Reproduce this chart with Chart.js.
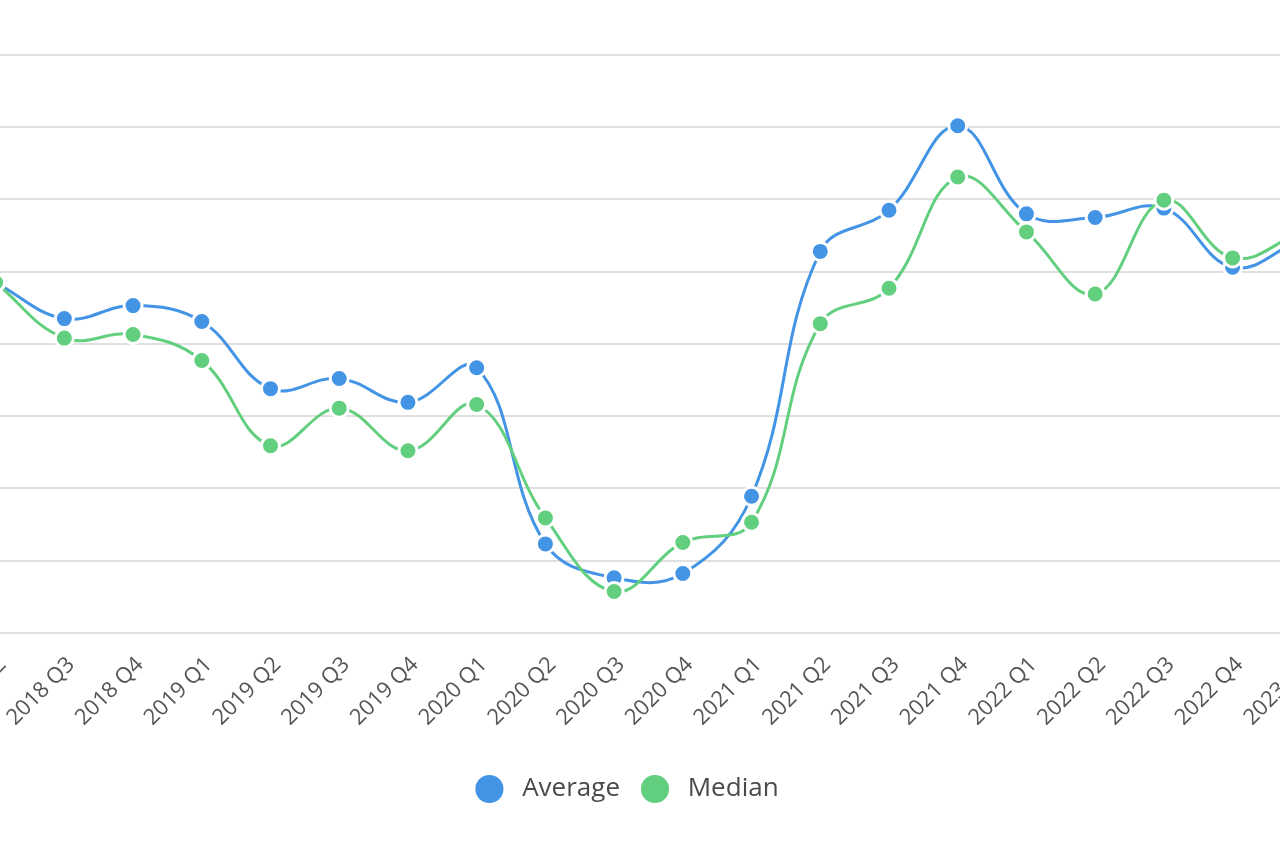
<!DOCTYPE html>
<html>
<head>
<meta charset="utf-8">
<script src="https://cdn.jsdelivr.net/npm/chart.js@4/dist/chart.umd.min.js"></script>
<style>
  html, body { margin: 0; padding: 0; background: #fff; overflow: hidden; }
  #frame { position: relative; width: 1280px; height: 852px; overflow: hidden; }
  #wrap { position: absolute; left: -84px; top: 0; width: 1423px; height: 832px; }
</style>
</head>
<body>
<div id="frame">
  <div id="wrap"><canvas id="trendChart"></canvas></div>
</div>
<script>
// quarters shown on the x axis
const quarters = [
  '2018 Q2', '2018 Q3', '2018 Q4',
  '2019 Q1', '2019 Q2', '2019 Q3', '2019 Q4',
  '2020 Q1', '2020 Q2', '2020 Q3', '2020 Q4',
  '2021 Q1', '2021 Q2', '2021 Q3', '2021 Q4',
  '2022 Q1', '2022 Q2', '2022 Q3', '2022 Q4',
  '2023 Q1'
];

// values (one grid step = 10)
const averageValues = [48.5, 43.5, 45.3, 43.1, 33.8, 35.2, 31.9, 36.7, 12.3, 7.6, 8.2, 18.9, 52.8, 58.5, 70.2, 58.0, 57.5, 58.8, 50.6, 54.5];
const medianValues  = [48.5, 40.8, 41.3, 37.7, 25.9, 31.1, 25.2, 31.6, 15.9, 5.7, 12.5, 15.3, 42.8, 47.7, 63.1, 55.5, 46.9, 59.9, 51.9, 55.5];

const yMin = 0;
const yMax = 80;
const yStep = 10;

const BLUE = '#4394e5';
const GREEN = '#62cf7e';

function lineSet(label, data, color, order) {
    return {
        label: label,
        data: data,
        borderColor: color,
        backgroundColor: color,
        borderWidth: 3,
        tension: 0.4,
        pointRadius: 9,
        pointHoverRadius: 9,
        pointBackgroundColor: color,
        pointBorderColor: '#ffffff',
        pointBorderWidth: 3,
        order: order
    };
}

const ctx = document.getElementById('trendChart').getContext('2d');
const trendChart = new Chart(ctx, {
    type: 'line',
    data: {
        labels: quarters,
        datasets: [
            lineSet('Average', averageValues, BLUE, 1),
            lineSet('Median', medianValues, GREEN, 0)   // median sits on top
        ]
    },
    options: {
        responsive: true,
        maintainAspectRatio: false,
        animation: false,
        layout: { padding: { top: 55, left: 0, right: 0, bottom: 20 } },
        plugins: {
            legend: {
                position: 'bottom',
                labels: {
                    usePointStyle: true,
                    pointStyle: 'circle',
                    boxHeight: 22,
                    padding: 22,
                    color: '#4a4a4a',
                    font: { family: '"Open Sans", sans-serif', size: 26 },
                    sort: (a, b) => a.datasetIndex - b.datasetIndex,
                    // a little more room between the dot and the text
                    generateLabels: (chart) => Chart.defaults.plugins.legend.labels.generateLabels(chart)
                        .map(item => Object.assign(item, { text: ' ' + item.text }))
                }
            },
            tooltip: { enabled: false }
        },
        scales: {
            x: {
                offset: false,
                grid: { display: false, drawTicks: false },
                border: { display: false },
                afterFit: (scale) => { scale.height += 4; },
                ticks: {
                    autoSkip: false,
                    minRotation: 45,
                    maxRotation: 45,
                    padding: 19,
                    labelOffset: 7,
                    color: '#555555',
                    font: { family: '"Open Sans", sans-serif', size: 22 }
                }
            },
            y: {
                min: yMin,
                max: yMax,
                grid: { color: '#e0e0e0', lineWidth: 2, drawTicks: false },
                border: { display: false },
                ticks: { display: false, stepSize: yStep }
            }
        }
    }
});
</script>
</body>
</html>
